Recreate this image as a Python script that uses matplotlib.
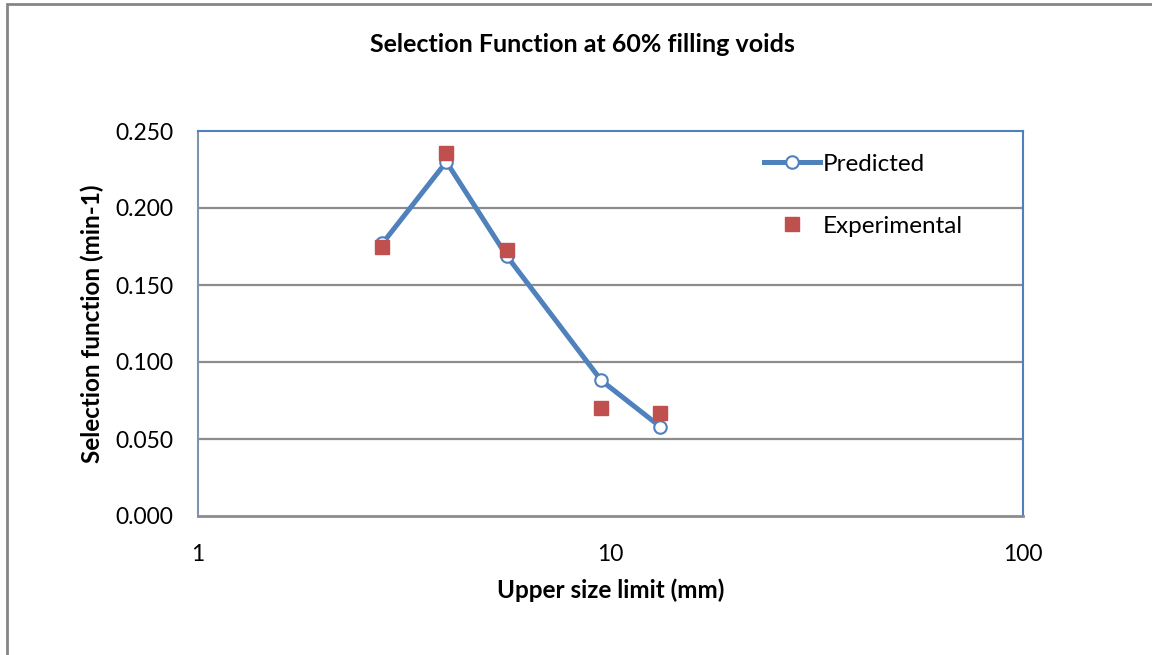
import numpy as np
import matplotlib.pyplot as plt
from matplotlib.patches import Rectangle

plt.rcParams['font.family'] = ['Lato', 'DejaVu Sans']

# 篩網上限尺寸 (mm)
size_mm = [2.8, 4.0, 5.6, 9.5, 13.2]
# 選擇函數 (min-1)
predicted = [0.177, 0.230, 0.169, 0.088, 0.058]
experimental = [0.175, 0.236, 0.173, 0.070, 0.067]
yticks = [0.0, 0.05, 0.10, 0.15, 0.20, 0.25]
xticks = [1, 10, 100]

blue = "#4F81BD"
red = "#C0504D"
grid_c = "#8C8C8C"

fig = plt.figure(figsize=(11.52, 6.55), dpi=100)
# 外框
fig.patches.append(Rectangle((7/1152, -0.01), 1.1, 1 - 4/655 + 0.01,
                             transform=fig.transFigure, fill=False,
                             edgecolor="#868686", linewidth=2))

ax = fig.add_axes([198/1152, 1 - 516/655, (1023-198)/1152, (516-131)/655])
ax.set_xscale("log")
ax.set_xlim(1, 100)
ax.set_ylim(0, 0.25)

for v in yticks[1:-1]:
    ax.axhline(v, color=grid_c, linewidth=1.6, zorder=1)

ax.plot(size_mm, predicted, color=blue, linewidth=3.6, marker="o",
        markersize=9, markerfacecolor="white", markeredgecolor=blue,
        markeredgewidth=1.5, label="Predicted", zorder=3)
ax.plot(size_mm, experimental, linestyle="none", marker="s", markersize=10.5,
        color=red, label="Experimental", zorder=4)

ax.set_xticks(xticks)
ax.set_xticklabels([str(t) for t in xticks])
ax.xaxis.set_minor_locator(plt.NullLocator())
ax.set_yticks(yticks)
ax.set_yticklabels(["%.3f" % t for t in yticks])
ax.tick_params(axis="x", length=0, labelsize=16.5, pad=20)
ax.tick_params(axis="y", length=0, labelsize=16.5, pad=18)

for s in ["top", "right"]:
    ax.spines[s].set_color(blue)
    ax.spines[s].set_linewidth(1.5)
ax.spines["left"].set_color("#7F93AE")
ax.spines["bottom"].set_color(grid_c)
ax.spines["left"].set_linewidth(1.5)
ax.spines["bottom"].set_linewidth(2)

ax.set_xlabel("Upper size limit (mm)", fontsize=17.5, fontweight="bold", labelpad=10)
ax.set_ylabel("Selection function (min-1)", fontsize=17.5, fontweight="bold", labelpad=8)
fig.text(582/1152, 1 - 44/655, "Selection Function at 60% filling voids",
         ha="center", va="center", fontsize=18, fontweight="bold")

ax.legend(loc="upper left", bbox_to_anchor=(0.66, 0.998), frameon=False,
          fontsize=17.5, labelspacing=1.7, handlelength=2.3, handletextpad=0.1)

fig.savefig("out.png", dpi=100)
